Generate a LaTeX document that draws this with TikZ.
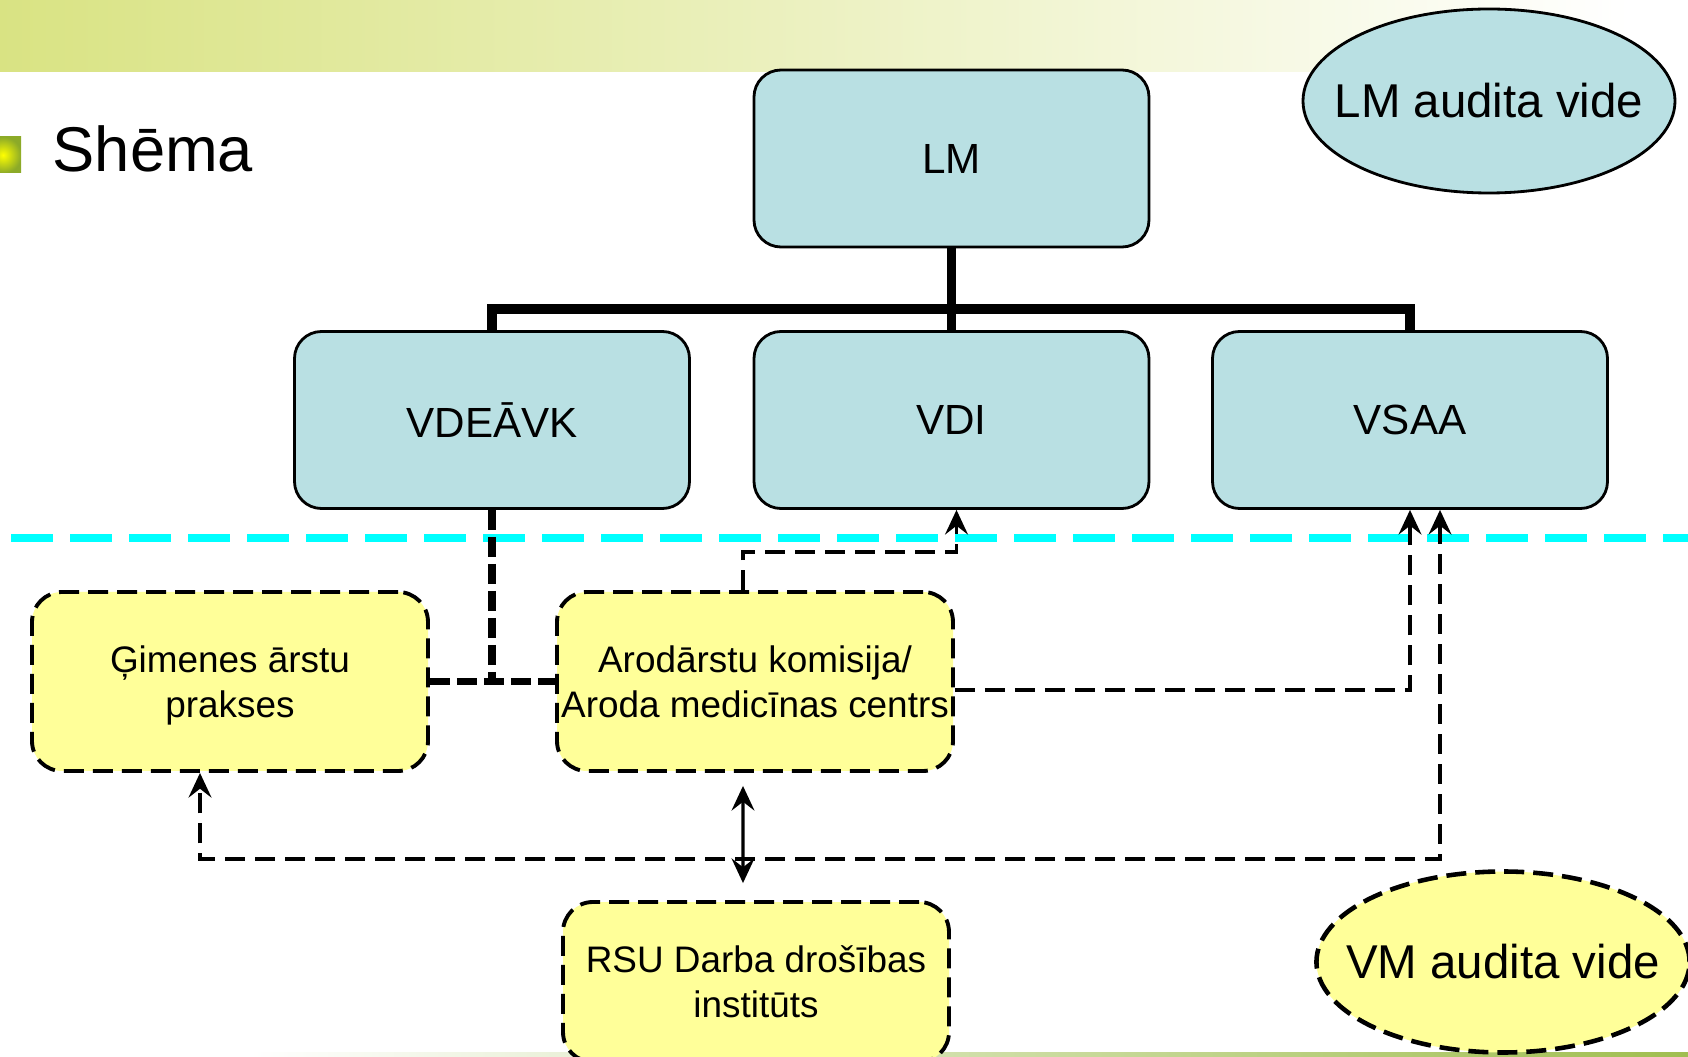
\documentclass[tikz,border=0pt]{standalone}
\usepackage{fontspec}
\setmainfont{Liberation Sans}
\usetikzlibrary{calc,arrows.meta,shapes.geometric}
\definecolor{bandgreen}{RGB}{217,227,131}
\definecolor{footgreen}{RGB}{160,190,80}
\definecolor{bulletgreen}{RGB}{140,170,40}
\definecolor{boxblue}{RGB}{185,224,227}
\definecolor{boxyellow}{RGB}{255,255,153}
\definecolor{linecyan}{RGB}{0,255,255}
\tikzset{>={Stealth[length=7pt,width=6.5pt,inset=2.5pt]}}
\tikzset{
  bluebox/.style={draw,line width=0.8pt,fill=boxblue,rounded corners=0.27cm,
    minimum width=3.95cm,minimum height=1.77cm,font=\fontsize{12}{14}\selectfont},
  yellowbox/.style={draw,line width=1.1pt,dash pattern=on 0.2cm off 0.09cm,
    fill=boxyellow,rounded corners=0.3cm,minimum width=3.96cm,minimum height=1.79cm,
    align=center,inner sep=0pt,text depth=0pt,font=\fontsize{10.5}{12.8}\selectfont},
  audit/.style={ellipse,inner ysep=0pt,inner xsep=-0.25cm,font=\fontsize{13.5}{16}\selectfont},
  conn/.style={line width=1pt,dash pattern=on 0.2cm off 0.1cm},
  thickconn/.style={line width=2pt,dash pattern=on 0.2cm off 0.07cm},
  tree/.style={line width=2.8pt}
}

\begin{document}
\begin{tikzpicture}
    \useasboundingbox (0,0) rectangle (16.88,-10.57);
    \shade[left color=bandgreen, right color=white] (0,0) rectangle (16.3,-0.72);
    \shade[left color=white, right color=footgreen] (2.5,-10.52) rectangle (16.88,-10.57);
    \shade[inner color=yellow, outer color=bulletgreen] (-0.15,-1.37) rectangle (0.21,-1.73);
    \node[anchor=base west,inner sep=0pt,font=\fontsize{18}{22}\selectfont] (title) at (0.52,-1.72) {Shēma};

    \node[bluebox] (lm) at (9.515,-1.585) {LM};
    \node[bluebox] (vdeavk) at (4.92,-4.2) {VDEĀVK};
    \node[bluebox] (vdi) at (9.515,-4.2) {VDI};
    \node[bluebox] (vsaa) at (14.1,-4.2) {VSAA};
    \node[audit,draw,line width=0.8pt,fill=boxblue,minimum width=3.72cm,minimum height=1.84cm] (lmvide) at (14.89,-1.01) {LM audita vide};

    \node[yellowbox] (gim) at (2.3,-6.815) {Ģimenes ārstu\\prakses};
    \node[yellowbox] (arod) at (7.55,-6.815) {Arodārstu komisija/\\Aroda medicīnas centrs};
    \node[yellowbox,minimum width=3.86cm,minimum height=1.6cm] (rsu) at (7.56,-9.82) {RSU Darba drošības\\institūts};
    \node[audit,draw,line width=1.3pt,dash pattern=on 0.2cm off 0.09cm,fill=boxyellow,minimum width=3.7cm,minimum height=1.81cm] (vmvide) at (15.03,-9.62) {VM audita vide};

    \draw[tree] (lm.south) -- ++(0,-0.61) coordinate (tj);
    \draw[tree] (vdeavk.north) |- (tj) -| (vsaa.north);
    \draw[tree] (tj) -- (vdi.north);

    \draw[linecyan, line width=2pt, dash pattern=on 0.42cm off 0.17cm] (0.11,-5.38) -- (16.88,-5.38);

    \draw[thickconn] (vdeavk.south) -- (vdeavk.south |- gim.east);
    \draw[thickconn] (gim.east) -- (arod.west);
    \draw[conn,->] ([xshift=-0.12cm]arod.north) -- ++(0,0.38) -| ([xshift=0.05cm]vdi.south);
    \draw[conn,->] ([yshift=-0.085cm]arod.east) -| (vsaa.south);
    \draw[conn,<->] ([xshift=0.3cm]vsaa.south) -- ++(0,-3.49) -| ([xshift=-0.3cm]gim.south);
    \draw[line width=0.9pt,<->] ([shift={(-0.12,-0.13)}]arod.south) -- ([shift={(-0.13,0.17)}]rsu.north);
\end{tikzpicture}
\end{document}
